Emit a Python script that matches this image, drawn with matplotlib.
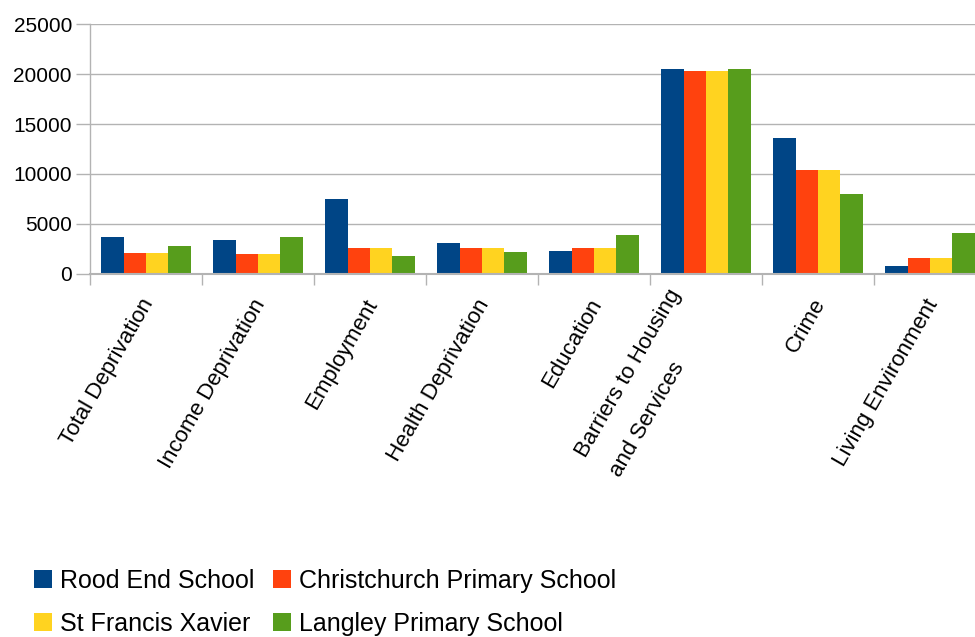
import matplotlib
matplotlib.use("Agg")
import matplotlib.pyplot as plt
import matplotlib.transforms as mtransforms
from matplotlib.patches import Patch
import numpy as np

plt.rcParams['font.family'] = ['Liberation Sans', 'DejaVu Sans']

categories = ["Total Deprivation", "Income Deprivation", "Employment", "Health Deprivation",
              "Education", "Barriers to Housing\nand Services", "Crime", "Living Environment"]
series_names = ["Rood End School", "Christchurch Primary School", "St Francis Xavier", "Langley Primary School"]
rood_end = [3700, 3400, 7500, 3100, 2300, 20500, 13600, 800]
christchurch = [2100, 2000, 2600, 2600, 2600, 20300, 10400, 1600]
st_francis = [2100, 2000, 2600, 2600, 2600, 20300, 10400, 1600]
langley = [2800, 3700, 1800, 2200, 3900, 20500, 8000, 4100]
yticks = [0, 5000, 10000, 15000, 20000, 25000]
colors = ["#004586", "#ff420e", "#ffd320", "#579d1c"]

W, H = 975, 637
fig = plt.figure(figsize=(W / 100, H / 100), dpi=100)
ax = fig.add_axes([90 / W, 1 - 274 / H, 896 / W, 250 / H])

series = [rood_end, christchurch, st_francis, langley]
x = np.arange(len(categories))
bw = 0.2
for i, (vals, c) in enumerate(zip(series, colors)):
    ax.bar(x + (i - 1.5) * bw, vals, width=bw, color=c, zorder=3, linewidth=0)

ax.set_xlim(-0.5, len(categories) - 0.5)
ax.set_ylim(0, 25000)
ax.set_yticks(yticks)
ax.set_yticklabels([str(v) for v in yticks])
ax.grid(axis='y', color='#b3b3b3', linewidth=1.0, zorder=0)
for s in ['top', 'right']:
    ax.spines[s].set_visible(False)
ax.spines['left'].set_color('#b3b3b3')
ax.spines['bottom'].set_color('#b3b3b3')
ax.spines['left'].set_linewidth(1.0)
ax.spines['bottom'].set_linewidth(1.5)
ax.spines['bottom'].set_zorder(4)

ax.tick_params(axis='y', length=10, width=1.0, color='#b3b3b3', labelsize=15, pad=3, labelcolor='#000000')
ax.set_xticks(x)
ax.set_xticks(np.arange(len(categories) + 1) - 0.5, minor=True)
ax.tick_params(axis='x', which='major', length=0, pad=22)
ax.tick_params(axis='x', which='minor', length=8, width=1.0, color='#b3b3b3')
labels = ax.set_xticklabels(categories, rotation=60, ha='right', va='center',
                            rotation_mode='anchor', fontsize=16, ma='left', linespacing=2.2)
for lab, cat in zip(labels, categories):
    dx = 2.2 / 72
    dy = 3 / 72
    if "\n" in cat:
        dx = -9 / 72
        dy = 2.9 / 72
    lab.set_transform(lab.get_transform() + mtransforms.ScaledTranslation(dx, dy, fig.dpi_scale_trans))

handles = [Patch(facecolor=c, edgecolor='none') for c in colors]
order = [0, 2, 1, 3]
fig.legend([handles[i] for i in order], [series_names[i] for i in order],
           loc='upper left', bbox_to_anchor=(34 / W, 1 - 569 / H), ncol=2, frameon=False,
           fontsize=18, handlelength=0.72, handleheight=0.72, handletextpad=0.32,
           labelspacing=0.76, columnspacing=0.75, borderaxespad=0, borderpad=0)

fig.savefig("out.png", dpi=100)
